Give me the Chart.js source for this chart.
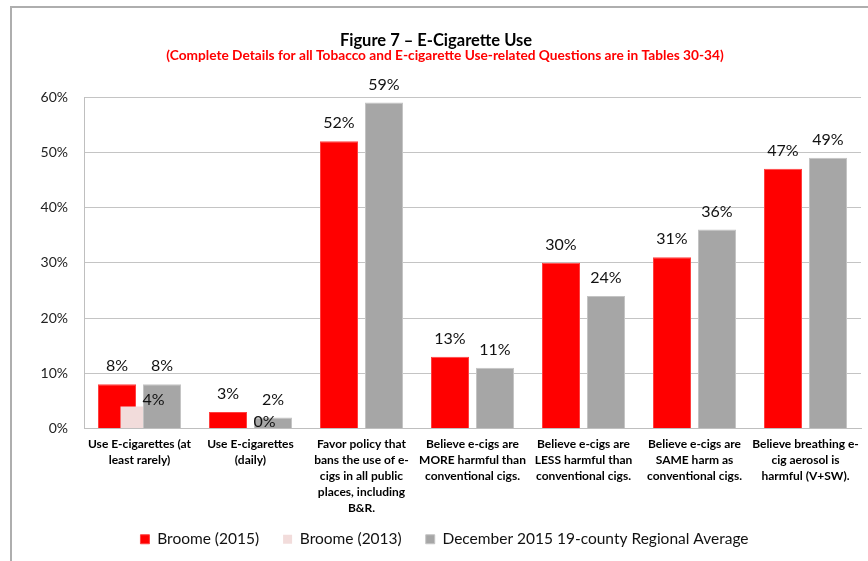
<!DOCTYPE html>
<html>
<head>
<meta charset="utf-8">
<script src="https://cdn.jsdelivr.net/npm/chart.js@4/dist/chart.umd.min.js"></script>
<style>
  html, body { margin:0; padding:0; background:#fff; }
  #wrap { position:relative; width:868px; height:561px; overflow:hidden; }
  #frame { position:absolute; left:10px; top:6px; right:-10px; bottom:-10px;
           border-top:2px solid #aeaeae; border-left:2px solid #aeaeae; }
  #chart { position:absolute; left:0; top:0; }
</style>
</head>
<body>
<div id="wrap">
  <div id="frame"></div>
  <canvas id="chart" width="868" height="561"></canvas>
</div>
<script>
// CATEGORIES (multi-line axis labels)
const categories = [
    ["Use E-cigarettes (at", "least rarely)"],
    ["Use E-cigarettes", "(daily)"],
    ["Favor policy that", "bans the use of e-", "cigs in all public", "places, including", "B&R."],
    ["Believe e-cigs are", "MORE harmful than", "conventional cigs."],
    ["Believe e-cigs are", "LESS harmful than", "conventional cigs."],
    ["Believe e-cigs are", "SAME harm as", "conventional cigs."],
    ["Believe breathing e-", "cig aerosol is", "harmful (V+SW)."]
];

// SERIES (percent)
const broome2015 = [8, 3, 52, 13, 30, 31, 47];
const broome2013 = [4, 0, null, null, null, null, null];
const regional   = [8, 2, 59, 11, 24, 36, 49];

const seriesNames = ["Broome (2015)", "Broome (2013)", "December 2015 19-county Regional Average"];
const yTicks = [0, 10, 20, 30, 40, 50, 60];

const FONT = "Lato, 'Open Sans', sans-serif";

// draw series in order so the later one sits on top (overlapping bars)
const layerBars = {
    id: "layerBars",
    beforeDraw(chart){
        // long category labels run below the axis box, don't clip them
        chart.scales.x._computeLabelArea = () => null;
    },
    beforeDatasetsDraw(chart){
        chart.getSortedVisibleDatasetMetas().forEach(meta => meta.controller.draw());
        return false;
    }
};

// value labels above the bars
const valueLabels = {
    id: "valueLabels",
    afterDraw(chart){
        const ctx = chart.ctx;
        ctx.save();
        ctx.font = "16px " + FONT;
        ctx.fillStyle = "#111";
        ctx.textAlign = "center";
        ctx.textBaseline = "middle";
        chart.data.datasets.forEach((ds, i) => {
            const meta = chart.getDatasetMeta(i);
            meta.data.forEach((bar, j) => {
                const v = ds.data[j];
                if(v === null) return;
                let dx = 0, dy = -18;
                if(i === 1){ dx = 14; dy = -7; }
                ctx.fillText(v + "%", bar.x + dx, bar.y + dy);
            });
        });
        ctx.restore();
    }
};

// heading lines
const headings = {
    id: "headings",
    afterDraw(chart){
        const ctx = chart.ctx;
        ctx.save();
        ctx.textAlign = "center";
        ctx.textBaseline = "middle";
        ctx.fillStyle = "#000";
        ctx.font = "bold 16.5px " + FONT;
        ctx.fillText("Figure 7 \u2013 E-Cigarette Use", 436, 41);
        ctx.fillStyle = "#ff0000";
        ctx.font = "bold 13.7px " + FONT;
        ctx.fillText("(Complete Details for all Tobacco and E-cigarette Use-related Questions are in Tables 30-34)", 445, 56);
        ctx.restore();
    }
};

new Chart(document.getElementById("chart"), {
    type: "bar",
    data: {
        labels: categories,
        datasets: [
            { label: seriesNames[0], data: broome2015, backgroundColor: "#ff0000", borderColor: "#ff4040", borderWidth: 1 },
            { label: seriesNames[1], data: broome2013, backgroundColor: "#f2dcdb", borderColor: "#f2dcdb", borderWidth: 0 },
            { label: seriesNames[2], data: regional, backgroundColor: "#a6a6a6", borderColor: "#c4c4c4", borderWidth: 1 }
        ]
    },
    options: {
        responsive: false,
        animation: false,
        events: [],
        categoryPercentage: 0.608,
        barPercentage: 1.69,
        layout: { padding: { top: 97, right: 7, left: 28, bottom: 4 } },
        plugins: {
            legend: {
                position: "bottom",
                labels: {
                    boxWidth: 9,
                    boxHeight: 9,
                    padding: 24,
                    color: "#111",
                    font: { family: FONT, size: 15.5 }
                }
            },
            tooltip: { enabled: false }
        },
        scales: {
            x: {
                grid: { display: false, drawTicks: false },
                border: { color: "#bfbfbf", width: 1 },
                ticks: {
                    autoSkip: false,
                    maxRotation: 0,
                    minRotation: 0,
                    padding: 8,
                    color: "#000",
                    font: { family: FONT, size: 12, weight: "bold", lineHeight: 1.33 }
                },
                afterFit(scale){ scale.height = 79; }
            },
            y: {
                min: 0,
                max: 60,
                afterBuildTicks(scale){ scale.ticks = yTicks.map(v => ({ value: v })); },
                grid: { color: "#c4c4c4", lineWidth: 1, drawTicks: false },
                border: { color: "#bfbfbf", width: 1 },
                ticks: {
                    padding: 16,
                    color: "#222",
                    font: { family: FONT, size: 14 },
                    callback: v => v + "%"
                },
                afterFit(scale){ scale.width = 56; }
            }
        }
    },
    plugins: [layerBars, valueLabels, headings]
});
</script>
</body>
</html>
